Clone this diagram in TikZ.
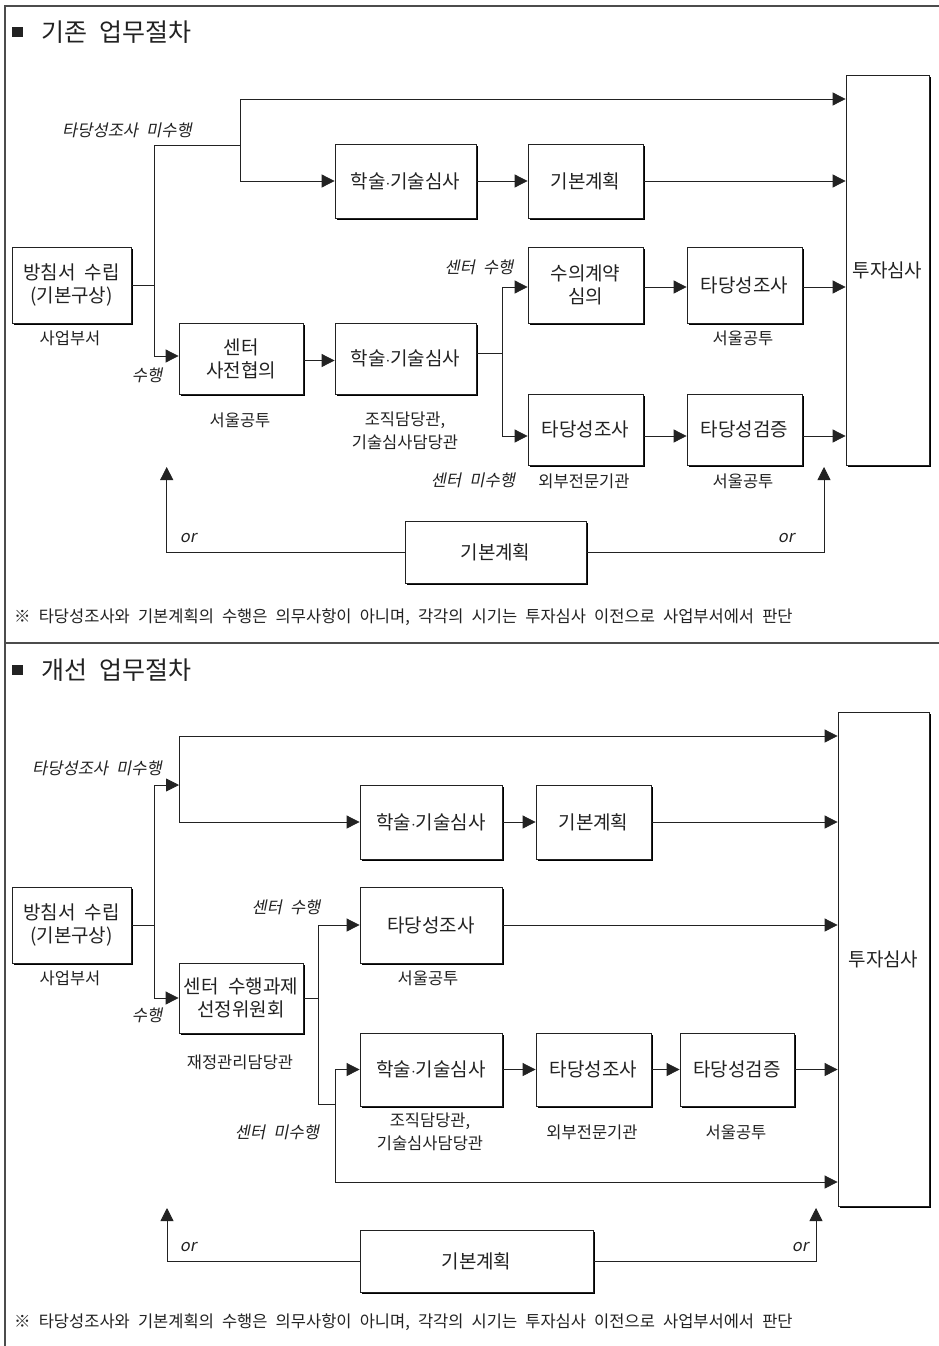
\documentclass[tikz,border=0pt]{standalone}
\usepackage{fontspec}
\setmainfont[WordSpace=2.2]{Noto Sans CJK KR}
\newfontfamily\krit[FakeSlant=0.2,WordSpace=2.2]{Noto Sans CJK KR}
\usetikzlibrary{arrows.meta,shadows}
\definecolor{ink}{HTML}{222222}
\begin{document}
\begin{tikzpicture}[x=1pt,y=-1pt,
  box/.style={draw=ink, line width=0.8pt, fill=white, align=center, text=ink,
    font=\fontsize{19}{23}\selectfont, inner sep=2pt,
    general shadow={shadow xshift=2pt, shadow yshift=-2pt, fill=black}},
  sub/.style={font=\fontsize{16.5}{23}\selectfont, align=center, inner sep=0pt, text=ink},
  lab/.style={font=\krit\fontsize{16.5}{19}\selectfont, inner sep=0pt, text=ink},
  ttl/.style={font=\fontsize{25}{29}\selectfont, anchor=west, inner sep=0pt, text=ink},
  line/.style={draw=ink, line width=0.8pt},
  arr/.style={line, -{Triangle[length=13pt,width=13pt]}},
  frame/.style={draw=black!70, line width=1.4pt}]
\useasboundingbox (0,0) rectangle (939,1346);
\fill[white] (0,0) rectangle (939,1346);
% frame
\draw[frame] (939,6) -- (5,6) -- (5,1346);
\draw[frame] (5,643) -- (939,643);

% ===================== Section 1 =====================
\fill[ink] (12,27) rectangle (23,37);
\node[ttl] (t1) at (41,32) {기존 업무절차};

\node[box, minimum width=119, minimum height=76] (plan1) at (71.5,285) {방침서 수립\\(기본구상)};
\node[sub] (plan1l) at (70,338) {사업부서};
\node[box, minimum width=83, minimum height=390] (inv1) at (887.5,270) {투자심사};
\node[box, minimum width=141, minimum height=74] (hak1) at (405.5,181) {학술$\cdot$기술심사};
\node[box, minimum width=115, minimum height=74] (gp1) at (585.5,181) {기본계획};
\node[box, minimum width=124, minimum height=71] (ctr1) at (241,358.5) {센터\\사전협의};
\node[sub] (ctr1l) at (240,420) {서울공투};
\node[box, minimum width=141, minimum height=71] (hak2) at (405.5,358.5) {학술$\cdot$기술심사};
\node[sub] (hak2l) at (405,431) {조직담당관,\\기술심사담당관};
\node[box, minimum width=115, minimum height=76] (su1) at (585.5,285) {수의계약\\심의};
\node[box, minimum width=115, minimum height=76] (ta1) at (744.5,285) {타당성조사};
\node[sub] (ta1l) at (743,338) {서울공투};
\node[box, minimum width=115, minimum height=71] (ta2) at (585.5,429.5) {타당성조사};
\node[sub] (ta2l) at (584,481) {외부전문기관};
\node[box, minimum width=115, minimum height=71] (tv1) at (744.5,429.5) {타당성검증};
\node[sub] (tv1l) at (743,481) {서울공투};
\node[box, minimum width=181, minimum height=62] (gb1) at (495.5,552) {기본계획};

\node[lab] (l1) at (127,130) {타당성조사 미수행};
\node[lab] (l2) at (147,375) {수행};
\node[lab] (l3) at (479,267) {센터 수행};
\node[lab] (l4) at (473,480) {센터 미수행};
\node[lab] (l5) at (188,538) {or};
\node[lab] (l6) at (786,538) {or};

\coordinate (a1) at (154,285);
\coordinate (a1t) at (154,145);
\coordinate (a1b) at (154,356);
\coordinate (a2) at (240,145);
\coordinate (a2t) at (240,99);
\coordinate (a2b) at (240,181);
\draw[line] (plan1.east) -- (a1);
\draw[line] (a1t) -- (a1b);
\draw[line] (a1t) -- (a2);
\draw[line] (a2t) -- (a2b);
\draw[arr] (a2t) -- (a2t -| inv1.west);
\draw[arr] (a2b) -- (hak1.west);
\draw[arr] (hak1) -- (gp1);
\draw[arr] (gp1.east) -- (gp1.east -| inv1.west);
\draw[arr] (a1b) -- (a1b -| ctr1.west);
\draw[arr] (ctr1.east) ++(0,2) coordinate (c1e) -- (c1e -| hak2.west);
\coordinate (a3) at (502,353);
\coordinate (a3t) at (502,287);
\coordinate (a3b) at (502,436);
\draw[line] (a3 -| hak2.east) -- (a3);
\draw[line] (a3t) -- (a3b);
\draw[arr] (a3t) -- (a3t -| su1.west);
\draw[arr] (su1.east) ++(0,2) coordinate (s1e) -- (s1e -| ta1.west);
\draw[arr] (ta1.east) ++(0,2) coordinate (t1e) -- (t1e -| inv1.west);
\draw[arr] (a3b) -- (a3b -| ta2.west);
\draw[arr] (a3b -| ta2.east) -- (a3b -| tv1.west);
\draw[arr] (a3b -| tv1.east) -- (a3b -| inv1.west);
\coordinate (o1) at (166.7,467);
\coordinate (o2) at (824,467);
\draw[arr] (gb1.west) -| (o1);
\draw[arr] (gb1.east) -| (o2);

\node[sub, anchor=west] (fn1) at (14,617) {※ 타당성조사와 기본계획의 수행은 의무사항이 아니며, 각각의 시기는 투자심사 이전으로 사업부서에서 판단};

% ===================== Section 2 =====================
\fill[ink] (12,665) rectangle (23,675);
\node[ttl] (t2) at (41,670) {개선 업무절차};

\node[box, minimum width=119, minimum height=76] (plan2) at (71.5,925) {방침서 수립\\(기본구상)};
\node[sub] (plan2l) at (70,978) {사업부서};
\node[box, minimum width=91, minimum height=494] (inv2) at (883.5,959) {투자심사};
\node[box, minimum width=142, minimum height=74] (hak3) at (431,822) {학술$\cdot$기술심사};
\node[box, minimum width=115, minimum height=74] (gp3) at (593.5,822) {기본계획};
\node[box, minimum width=124, minimum height=70] (sel) at (241,998) {센터 수행과제\\선정위원회};
\node[sub] (sell) at (240,1062) {재정관리담당관};
\node[box, minimum width=142, minimum height=76] (ta3) at (431,925) {타당성조사};
\node[sub] (ta3l) at (428,978) {서울공투};
\node[box, minimum width=142, minimum height=73] (hak4) at (431,1069.5) {학술$\cdot$기술심사};
\node[sub] (hak4l) at (430,1132) {조직담당관,\\기술심사담당관};
\node[box, minimum width=115, minimum height=73] (ta4) at (593.5,1069.5) {타당성조사};
\node[sub] (ta4l) at (592,1132) {외부전문기관};
\node[box, minimum width=114, minimum height=73] (tv2) at (737,1069.5) {타당성검증};
\node[sub] (tv2l) at (736,1132) {서울공투};
\node[box, minimum width=233, minimum height=62] (gb2) at (476.5,1261) {기본계획};

\node[lab] (m1) at (97,768) {타당성조사 미수행};
\node[lab] (m2) at (147,1015) {수행};
\node[lab] (m3) at (286,907) {센터 수행};
\node[lab] (m4) at (277,1132) {센터 미수행};
\node[lab] (m5) at (188,1247) {or};
\node[lab] (m6) at (800,1247) {or};

\coordinate (b1) at (154,925);
\coordinate (b1t) at (154,785);
\coordinate (b1b) at (154,998);
\coordinate (b2) at (179,785);
\coordinate (b2t) at (179,736);
\coordinate (b2b) at (179,822);
\draw[line] (plan2.east) -- (b1);
\draw[line] (b1t) -- (b1b);
\draw[arr] (b1t) -- (b2);
\draw[line] (b2t) -- (b2b);
\draw[arr] (b2t) -- (b2t -| inv2.west);
\draw[arr] (b2b) -- (hak3.west);
\draw[arr] (hak3) -- (gp3);
\draw[arr] (gp3.east) -- (gp3.east -| inv2.west);
\draw[arr] (b1b) -- (sel.west);
\coordinate (b3) at (318,998);
\coordinate (b3t) at (318,925);
\coordinate (b3b) at (318,1104);
\coordinate (b4) at (335,1104);
\coordinate (b4t) at (335,1069.5);
\coordinate (b4b) at (335,1182);
\draw[line] (sel.east) -- (b3);
\draw[line] (b3t) -- (b3b) -- (b4);
\draw[arr] (b3t) -- (ta3.west);
\draw[arr] (ta3.east) -- (ta3.east -| inv2.west);
\draw[line] (b4t) -- (b4b);
\draw[arr] (b4t) -- (hak4.west);
\draw[arr] (hak4) -- (ta4);
\draw[arr] (ta4) -- (tv2);
\draw[arr] (tv2.east) -- (tv2.east -| inv2.west);
\draw[arr] (b4b) -- (b4b -| inv2.west);
\coordinate (p1) at (167,1208);
\coordinate (p2) at (816,1208);
\draw[arr] (gb2.west) -| (p1);
\draw[arr] (gb2.east) -| (p2);

\node[sub, anchor=west] (fn2) at (14,1322) {※ 타당성조사와 기본계획의 수행은 의무사항이 아니며, 각각의 시기는 투자심사 이전으로 사업부서에서 판단};
\end{tikzpicture}
\end{document}
